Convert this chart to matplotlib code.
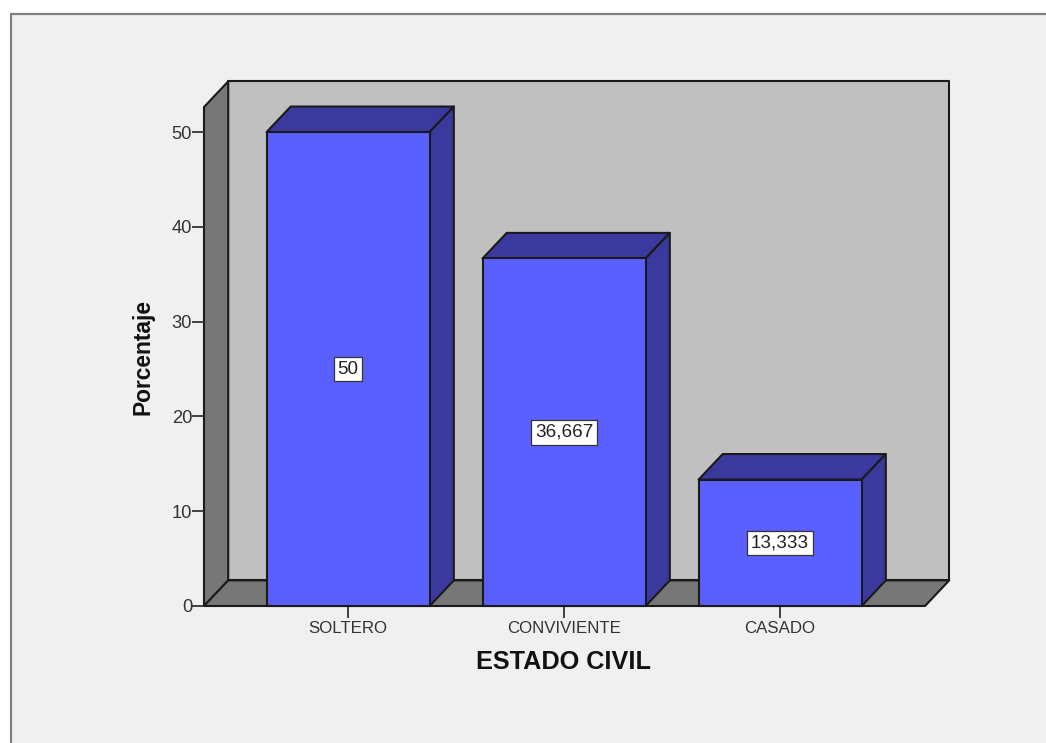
"""Estado civil: 3D-look bar chart in the SPSS style, drawn with flat polygons."""

import matplotlib
matplotlib.use("Agg")
import matplotlib.pyplot as plt
from matplotlib.lines import Line2D
from matplotlib.patches import Polygon, Rectangle

categories = ["SOLTERO", "CONVIVIENTE", "CASADO"]
percentages = [50, 36.667, 13.333]
bar_labels = ["50", "36,667", "13,333"]
y_ticks = [0, 10, 20, 30, 40, 50]

W, H = 1046, 743
BAR_WIDTH = 0.755
DEPTH_X = 0.112   # depth offset in category units
DEPTH_Y = 2.70    # depth offset in percent units
XLIM = (-0.667, 2.671)
YLIM = (0, 52.65)
EDGE = "#1a1a1a"

plt.rcParams["font.family"] = ["Liberation Sans", "DejaVu Sans"]

fig = plt.figure(figsize=(W / 100, H / 100), dpi=100, facecolor="white")

# Panel background with the grey frame on the left and top
fig.add_artist(Rectangle((10 / W, 0), 1 - 10 / W, 1 - 13 / H, transform=fig.transFigure,
                         facecolor="#f0f0f0", edgecolor="none", zorder=-2))
fig.add_artist(Line2D([10.5 / W, 10.5 / W, 1], [0, 1 - 13.5 / H, 1 - 13.5 / H],
                      transform=fig.transFigure, color="#808080", lw=1.6, zorder=-1))

ax = fig.add_axes([204 / W, (H - 606) / H, 721 / W, (606 - 107) / H])
ax.set_xlim(*XLIM)
ax.set_ylim(*YLIM)
ax.patch.set_visible(False)
for side in ax.spines.values():
    side.set_visible(False)


def face(points, color, z):
    ax.add_patch(Polygon(points, closed=True, facecolor=color, edgecolor=EDGE,
                         lw=1.5, joinstyle="round", clip_on=False, zorder=z))


x0, x1 = XLIM
y0, y1 = YLIM

# Back wall, left wall, floor
face([(x0 + DEPTH_X, y0 + DEPTH_Y), (x1 + DEPTH_X, y0 + DEPTH_Y),
      (x1 + DEPTH_X, y1 + DEPTH_Y), (x0 + DEPTH_X, y1 + DEPTH_Y)], "#c0c0c0", 1)
face([(x0, y0), (x0 + DEPTH_X, y0 + DEPTH_Y),
      (x0 + DEPTH_X, y1 + DEPTH_Y), (x0, y1)], "#777777", 1)
face([(x0, y0), (x1, y0), (x1 + DEPTH_X, y0 + DEPTH_Y),
      (x0 + DEPTH_X, y0 + DEPTH_Y)], "#777777", 1)

# Bars: front, top and side faces
for i, (value, label) in enumerate(zip(percentages, bar_labels)):
    left, right = i - BAR_WIDTH / 2, i + BAR_WIDTH / 2
    face([(left, value), (right, value), (right + DEPTH_X, value + DEPTH_Y),
          (left + DEPTH_X, value + DEPTH_Y)], "#3a3a9e", 3)
    face([(right, 0), (right + DEPTH_X, DEPTH_Y),
          (right + DEPTH_X, value + DEPTH_Y), (right, value)], "#3a3a9e", 3)
    face([(left, 0), (right, 0), (right, value), (left, value)], "#5a5fff", 4)
    ax.text(i, value / 2, label, ha="center", va="center", fontsize=13.6,
            color="#222222", zorder=6,
            bbox=dict(boxstyle="square,pad=0.2", facecolor="white",
                      edgecolor="#333333", lw=0.9))

ax.set_xticks(range(len(categories)), categories)
ax.set_yticks(y_ticks)
ax.tick_params(axis="x", length=8.5, width=1.3, color="#333333", labelsize=12.2,
               labelcolor="#333333", pad=2.5)
ax.tick_params(axis="y", length=8.5, width=1.3, color="#333333", labelsize=13.2,
               labelcolor="#333333", pad=0)

fig.text(564 / W, 1 - 662 / H, "ESTADO CIVIL", ha="center", va="center",
         fontsize=18.2, fontweight="bold", color="#111111")
fig.text(143 / W, 1 - 357 / H, "Porcentaje", ha="center", va="center",
         rotation=90, fontsize=16.4, fontweight="bold", color="#111111")

fig.savefig("out.png", dpi=100, facecolor=fig.get_facecolor())
